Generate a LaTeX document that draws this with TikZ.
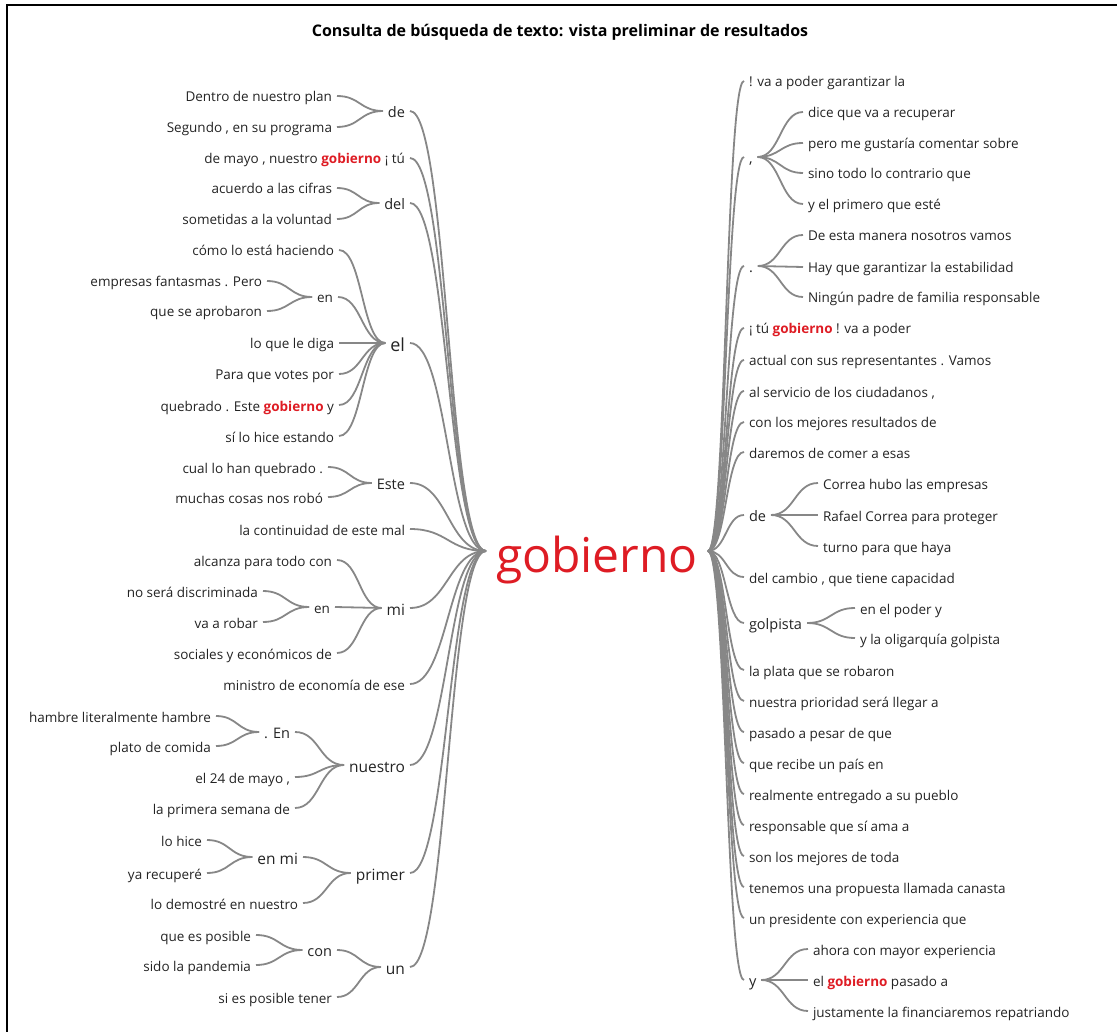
\documentclass[tikz,border=0pt]{standalone}
\usepackage{fontspec}
\setmainfont{Open Sans}
\usetikzlibrary{calc}
\definecolor{gobred}{RGB}{222,28,36}
\definecolor{linkgray}{RGB}{135,135,135}
\definecolor{wordgray}{RGB}{35,35,35}
\newcommand{\gob}{\textcolor{gobred}{\bfseries gobierno}}

\begin{document}
\begin{tikzpicture}[x=1pt, y=-1pt,
	word/.style={inner sep=2pt, outer sep=3pt, text=wordgray, text depth=0pt},
	lside/.style={anchor=east, xshift=3pt},
	rside/.style={anchor=west, xshift=-3pt},
	leaf/.style={word, text height=12pt, font=\fontsize{13.5}{16}\selectfont},
	wone/.style={word, text height=13pt, font=\fontsize{14.5}{17}\selectfont},
	wtwo/.style={word, text height=14pt, font=\fontsize{15.5}{18}\selectfont},
	wthree/.style={word, text height=17pt, font=\fontsize{18}{21}\selectfont},
	link/.style={draw=linkgray, line width=1.8pt, to path={let \p1=(\tikztostart), \p2=(\tikztotarget) in .. controls ({0.5*\x1+0.5*\x2},\y1) and ({0.5*\x1+0.5*\x2},\y2) .. (\tikztotarget)}}]
	\useasboundingbox (0,0) rectangle (1117,1032);
	\draw[line width=1.5pt] (7,1032) -- (7,5) -- (1117,5);
	
	\node[font=\bfseries\fontsize{16}{19}\selectfont, anchor=base] (titulo) at (560,37) {Consulta de búsqueda de texto: vista preliminar de resultados};
	
	\node[font=\fontsize{48}{56}\selectfont, text=gobred, anchor=base, inner sep=0pt] (gobierno) at (597,572) {gobierno};
	\coordinate (gl) at (486,551);
	\coordinate (gr) at (708,551);
	
	\node[wone, lside] (de1) at (407,111) {de};
	\node[leaf, lside] (dentro) at (334,96) {Dentro de nuestro plan};
	\node[leaf, lside] (segundo) at (334,127) {Segundo , en su programa};
	\node[leaf, lside] (demayo) at (407,158) {de mayo , nuestro \gob{} ¡ tú};
	\node[wone, lside] (del) at (407,203) {del};
	\node[leaf, lside] (acuerdo) at (334,188) {acuerdo a las cifras};
	\node[leaf, lside] (sometidas) at (334,219) {sometidas a la voluntad};
	\node[wthree, lside] (el) at (407,343) {el};
	\node[leaf, lside] (como) at (336,250) {cómo lo está haciendo};
	\node[leaf, lside] (en1) at (335,297) {en};
	\node[leaf, lside] (empresas) at (264,281) {empresas fantasmas . Pero};
	\node[leaf, lside] (aprobaron) at (264,311) {que se aprobaron};
	\node[leaf, lside] (diga) at (336,343) {lo que le diga};
	\node[leaf, lside] (votes) at (336,374) {Para que votes por};
	\node[leaf, lside] (quebrado) at (336,405) {quebrado . Este \gob{} y};
	\node[leaf, lside] (estando) at (336,436) {sí lo hice estando};
	\node[wone, lside] (este) at (407,483) {Este};
	\node[leaf, lside] (cual) at (325,467) {cual lo han quebrado .};
	\node[leaf, lside] (robo) at (325,497) {muchas cosas nos robó};
	\node[leaf, lside] (continuidad) at (407,529) {la continuidad de este mal};
	\node[wtwo, lside] (mi) at (407,608) {mi};
	\node[leaf, lside] (alcanza) at (334,560) {alcanza para todo con};
	\node[leaf, lside] (en2) at (332,607) {en};
	\node[leaf, lside] (discriminada) at (260,591) {no será discriminada};
	\node[leaf, lside] (robar) at (260,622) {va a robar};
	\node[leaf, lside] (sociales) at (334,653) {sociales y económicos de};
	\node[leaf, lside] (ministro) at (407,684) {ministro de economía de ese};
	\node[wtwo, lside] (nuestro) at (407,765) {nuestro};
	\node[wone, lside] (punto1) at (292,732) {. En};
	\node[leaf, lside] (hambre) at (213,716) {hambre literalmente hambre};
	\node[leaf, lside] (plato) at (213,746) {plato de comida};
	\node[leaf, lside] (mayo) at (292,777) {el 24 de mayo ,};
	\node[leaf, lside] (semana) at (292,808) {la primera semana de};
	\node[wtwo, lside] (primer) at (407,873) {primer};
	\node[wtwo, lside] (enmi) at (300,857) {en mi};
	\node[leaf, lside] (hice) at (204,840) {lo hice};
	\node[leaf, lside] (recupere) at (204,873) {ya recuperé};
	\node[leaf, lside] (demostre) at (300,903) {lo demostré en nuestro};
	\node[wtwo, lside] (un) at (407,967) {un};
	\node[wone, lside] (con) at (334,950) {con};
	\node[leaf, lside] (posible) at (253,935) {que es posible};
	\node[leaf, lside] (pandemia) at (253,965) {sido la pandemia};
	\node[leaf, lside] (tener) at (334,997) {si es posible tener};
	
	\node[leaf, rside] (garantizar) at (747,81) {! va a poder garantizar la};
	\node[wone, rside] (coma) at (747,157) {,};
	\node[leaf, rside] (dice) at (806,112) {dice que va a recuperar};
	\node[leaf, rside] (gustaria) at (806,143) {pero me gustaría comentar sobre};
	\node[leaf, rside] (sino) at (806,173) {sino todo lo contrario que};
	\node[leaf, rside] (primero) at (806,204) {y el primero que esté};
	\node[wone, rside] (punto2) at (747,266) {.};
	\node[leaf, rside] (manera) at (806,235) {De esta manera nosotros vamos};
	\node[leaf, rside] (estabilidad) at (806,267) {Hay que garantizar la estabilidad};
	\node[leaf, rside] (padre) at (806,297) {Ningún padre de familia responsable};
	\node[leaf, rside] (tu) at (747,328) {¡ tú \gob{} ! va a poder};
	\node[leaf, rside] (actual) at (747,360) {actual con sus representantes . Vamos};
	\node[leaf, rside] (servicio) at (747,391) {al servicio de los ciudadanos ,};
	\node[leaf, rside] (mejores) at (747,422) {con los mejores resultados de};
	\node[leaf, rside] (daremos) at (747,452) {daremos de comer a esas};
	\node[wone, rside] (de2) at (747,515) {de};
	\node[leaf, rside] (correa) at (821,483) {Correa hubo las empresas};
	\node[leaf, rside] (rafael) at (821,515) {Rafael Correa para proteger};
	\node[leaf, rside] (turno) at (821,546) {turno para que haya};
	\node[leaf, rside] (cambio) at (747,577) {del cambio , que tiene capacidad};
	\node[wone, rside] (golpista) at (747,623) {golpista};
	\node[leaf, rside] (poder) at (858,608) {en el poder y};
	\node[leaf, rside] (oligarquia) at (858,638) {y la oligarquía golpista};
	\node[leaf, rside] (plata) at (747,670) {la plata que se robaron};
	\node[leaf, rside] (prioridad) at (747,701) {nuestra prioridad será llegar a};
	\node[leaf, rside] (pesar) at (747,732) {pasado a pesar de que};
	\node[leaf, rside] (pais) at (747,763) {que recibe un país en};
	\node[leaf, rside] (pueblo) at (747,794) {realmente entregado a su pueblo};
	\node[leaf, rside] (ama) at (747,825) {responsable que sí ama a};
	\node[leaf, rside] (toda) at (747,856) {son los mejores de toda};
	\node[leaf, rside] (canasta) at (747,887) {tenemos una propuesta llamada canasta};
	\node[leaf, rside] (experiencia) at (747,918) {un presidente con experiencia que};
	\node[wone, rside] (ynode) at (747,980) {y};
	\node[leaf, rside] (ahora) at (811,949) {ahora con mayor experiencia};
	\node[leaf, rside] (pasado) at (811,980) {el \gob{} pasado a};
	\node[leaf, rside] (repatriando) at (811,1011) {justamente la financiaremos repatriando};
	
	\foreach \w in {de1, demayo, del, el, este, continuidad, mi, ministro, nuestro, primer, un}
	\draw[link] (gl) to (\w.east);
	\foreach \w in {dentro, segundo}
	\draw[link] (\w.east) to (de1.west);
	\foreach \w in {acuerdo, sometidas}
	\draw[link] (\w.east) to (del.west);
	\foreach \w in {como, en1, diga, votes, quebrado, estando}
	\draw[link] (\w.east) to (el.west);
	\foreach \w in {empresas, aprobaron}
	\draw[link] (\w.east) to (en1.west);
	\foreach \w in {cual, robo}
	\draw[link] (\w.east) to (este.west);
	\foreach \w in {alcanza, en2, sociales}
	\draw[link] (\w.east) to (mi.west);
	\foreach \w in {discriminada, robar}
	\draw[link] (\w.east) to (en2.west);
	\foreach \w in {punto1, mayo, semana}
	\draw[link] (\w.east) to (nuestro.west);
	\foreach \w in {hambre, plato}
	\draw[link] (\w.east) to (punto1.west);
	\foreach \w in {enmi, demostre}
	\draw[link] (\w.east) to (primer.west);
	\foreach \w in {hice, recupere}
	\draw[link] (\w.east) to (enmi.west);
	\foreach \w in {con, tener}
	\draw[link] (\w.east) to (un.west);
	\foreach \w in {posible, pandemia}
	\draw[link] (\w.east) to (con.west);
	
	\foreach \w in {garantizar, coma, punto2, tu, actual, servicio, mejores, daremos, de2, cambio, golpista, plata, prioridad, pesar, pais, pueblo, ama, toda, canasta, experiencia, ynode}
	\draw[link] (gr) to (\w.west);
	\foreach \w in {dice, gustaria, sino, primero}
	\draw[link] (coma.east) to (\w.west);
	\foreach \w in {manera, estabilidad, padre}
	\draw[link] (punto2.east) to (\w.west);
	\foreach \w in {correa, rafael, turno}
	\draw[link] (de2.east) to (\w.west);
	\foreach \w in {poder, oligarquia}
	\draw[link] (golpista.east) to (\w.west);
	\foreach \w in {ahora, pasado, repatriando}
	\draw[link] (ynode.east) to (\w.west);
\end{tikzpicture}
\end{document}
